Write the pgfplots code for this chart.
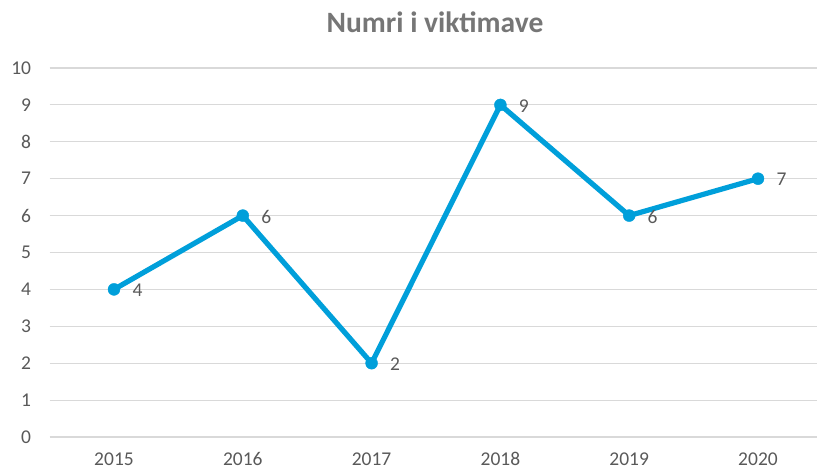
\documentclass[border=0pt]{standalone}
\usepackage{pgfplots}
\pgfplotsset{compat=1.18}
\usepackage{fontspec}
\setmainfont{Carlito}
\definecolor{linec}{RGB}{0,159,218}
\definecolor{tickc}{RGB}{89,89,89}
\definecolor{gridc}{RGB}{217,217,217}
\definecolor{titlec}{RGB}{118,118,118}
\begin{document}
\begin{tikzpicture}
\useasboundingbox (-49.6pt,-37pt) rectangle (767.4pt,437pt);
\begin{axis}[
  at={(0,0)}, anchor=south west,
  scale only axis, width=772.8pt, height=369pt,
  xmin=-0.5, xmax=5.5, ymin=0, ymax=10,
  xtick={0,1,2,3,4,5},
  xticklabels={2015,2016,2017,2018,2019,2020},
  ytick={0,1,...,10},
  ymajorgrids, major grid style={gridc, line width=1.2pt},
  axis line style={draw=none},
  tick style={draw=none},
  /pgf/number format/assume math mode=true,
  ticklabel style={font=\fontsize{19.5}{22}\selectfont, text=tickc},
  yticklabel style={xshift=-15pt},
  xticklabel style={yshift=-12pt},
  clip=false,
]
\addplot[linec, line width=5.2pt, mark=*, mark size=6pt, mark options={solid, fill=linec, draw=linec, line width=0.4pt},
  nodes near coords, every node near coord/.append style={anchor=west, xshift=15pt, yshift=-1pt, font=\fontsize{19.5}{22}\selectfont, text=tickc}]
  coordinates {(0,4) (1,6) (2,2) (3,9) (4,6) (5,7)};
\end{axis}
\node[font=\bfseries\fontsize{29.5}{34}\selectfont, text=titlec, anchor=base] at (385.4pt,404pt) {Numri i viktimave};
\end{tikzpicture}
\end{document}
